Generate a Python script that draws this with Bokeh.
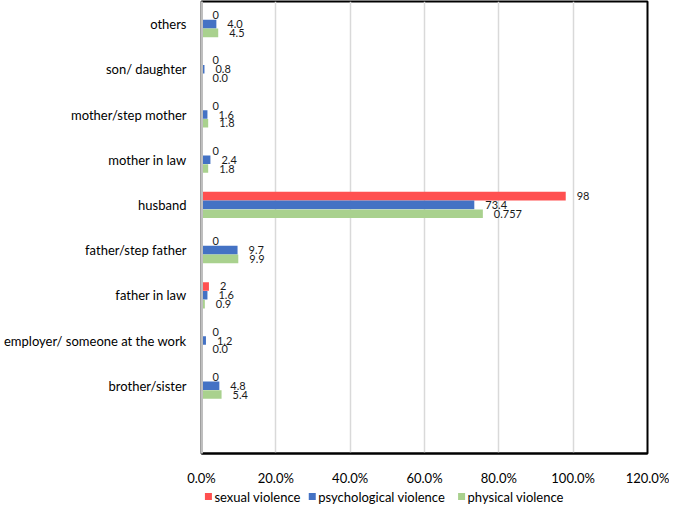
from bokeh.plotting import figure
from bokeh.layouts import column
from bokeh.models import (ColumnDataSource, FactorRange, Range1d, FixedTicker, Span)
from bokeh.transform import dodge
from bokeh.core.properties import value
from bokeh.embed import file_html
from bokeh.resources import INLINE

# ---- data (top to bottom as in the chart) ----
categories = ["others", "son/ daughter", "mother/step mother", "mother in law", "husband",
              "father/step father", "father in law", "employer/ someone at the work", "brother/sister"]
sexual = [0, 0, 0, 0, 98, 0, 2, 0, 0]
psychological = [4.0, 0.8, 1.6, 2.4, 73.4, 9.7, 1.6, 1.2, 4.8]
physical = [4.5, 0.0, 1.8, 1.8, 75.7, 9.9, 0.9, 0.0, 5.4]
sexual_labels = ["0", "0", "0", "0", "98", "0", "2", "0", "0"]
psychological_labels = ["4.0", "0.8", "1.6", "2.4", "73.4", "9.7", "1.6", "1.2", "4.8"]
physical_labels = ["4.5", "0.0", "1.8", "1.8", "0.757", "9.9", "0.9", "0.0", "5.4"]
x_ticks = [0, 20, 40, 60, 80, 100, 120]
x_tick_labels = ["0.0%", "20.0%", "40.0%", "60.0%", "80.0%", "100.0%", "120.0%"]
series_names = ["sexual violence", "psychological violence", "physical  violence"]
colors = ["#FF5050", "#4472C4", "#A9D18E"]

FONT = "Lato"
factors = [" "] + categories[::-1]   # empty slot at the bottom, as in the chart

src = ColumnDataSource(dict(cat=categories, sexual=sexual, psych=psychological, phys=physical,
                            sl=sexual_labels, pl=psychological_labels, fl=physical_labels))

BL, BR = 196, 22
p = figure(width=669, height=488, y_range=FactorRange(factors=factors, range_padding=0),
           x_range=Range1d(0, 120), output_backend="svg", toolbar_location=None,
           min_border_left=BL, min_border_right=BR, min_border_top=1, min_border_bottom=2)
p.outline_line_color = "black"
p.outline_line_width = 2
p.background_fill_color = "white"

off = 0.195
bh = 0.19
p.hbar(y=dodge("cat", off, range=p.y_range), right="sexual", height=bh, left=0,
       source=src, fill_color=colors[0], line_color=None)
p.hbar(y=dodge("cat", 0, range=p.y_range), right="psych", height=bh, left=0,
       source=src, fill_color=colors[1], line_color=None)
p.hbar(y=dodge("cat", -off, range=p.y_range), right="phys", height=bh, left=0,
       source=src, fill_color=colors[2], line_color=None)

for col, lab, o in [("sexual", "sl", off), ("psych", "pl", 0), ("phys", "fl", -off)]:
    p.text(x=col, y=dodge("cat", o, range=p.y_range), text=lab, source=src,
           x_offset=11, text_align="left", text_baseline="middle",
           text_font=value(FONT), text_font_size="11px", text_color="#1a1a1a")

# axes
xa = p.xaxis[0]
xa.ticker = FixedTicker(ticks=x_ticks)
xa.major_label_overrides = {t: l for t, l in zip(x_ticks, x_tick_labels)}
xa.major_label_text_font = FONT
xa.major_label_text_font_size = "13px"
xa.major_label_text_color = "#000000"
xa.major_tick_line_color = None
xa.minor_tick_line_color = None
xa.axis_line_color = "black"
xa.axis_line_width = 2
xa.major_label_standoff = 10

ya = p.yaxis[0]
ya.major_label_text_font = FONT
ya.major_label_text_font_size = "13px"
ya.major_label_text_color = "#000000"
ya.major_tick_line_color = None
ya.minor_tick_line_color = None
ya.axis_line_color = "#BFBFBF"
ya.axis_line_width = 2
ya.major_label_standoff = 9

p.add_layout(Span(location=0, dimension="height", line_color="#BFBFBF", line_width=3))

p.xgrid.ticker = FixedTicker(ticks=x_ticks)
p.xgrid.grid_line_color = "#D9D9D9"
p.xgrid.grid_line_width = 1.5
p.ygrid.grid_line_color = None

# legend strip below (key squares + names); its frame lines up with the main frame
LW, LH = 669, 16
FW = LW - BL - BR
lg = figure(width=LW, height=LH, output_backend="svg", toolbar_location=None,
            min_border_left=BL, min_border_right=BR, min_border_top=0, min_border_bottom=0,
            x_range=Range1d(0, FW), y_range=Range1d(0, LH))
lg.axis.visible = False
lg.grid.visible = False
lg.outline_line_color = None
key_x = [7, 112, 263]          # layout positions of the legend keys (pixels from frame left)
lsrc = ColumnDataSource(dict(x=key_x, y=[LH / 2] * 3, c=colors, name=series_names))
lg.scatter(x="x", y="y", marker="square", size=7, fill_color="c", line_color=None, source=lsrc)
lg.text(x="x", y="y", text="name", source=lsrc, x_offset=6, text_align="left",
        text_baseline="middle", text_font=value(FONT), text_font_size="13px", text_color="#000000")

layout = column(p, lg, spacing=0)
open("out.html", "w").write(file_html(layout, INLINE))
